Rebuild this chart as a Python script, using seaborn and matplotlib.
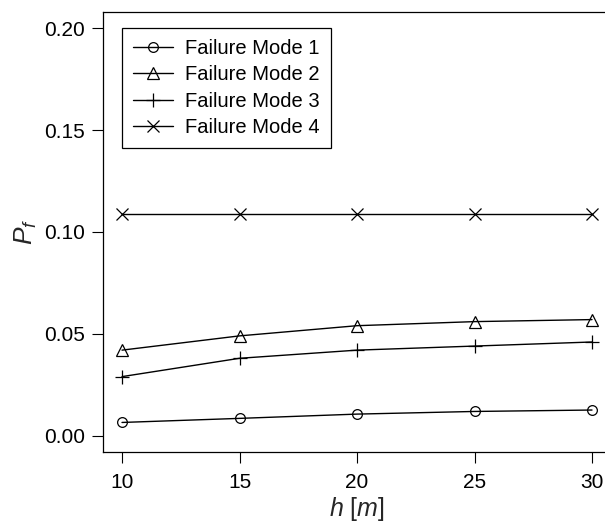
import pandas as pd
import matplotlib
matplotlib.use("Agg")
import matplotlib.pyplot as plt
import seaborn as sns

# data
h = [10, 15, 20, 25, 30]
mode1 = [0.0065, 0.0085, 0.0106, 0.0119, 0.0126]
mode2 = [0.042, 0.049, 0.054, 0.056, 0.057]
mode3 = [0.029, 0.038, 0.042, 0.044, 0.046]
mode4 = [0.109, 0.109, 0.109, 0.109, 0.109]
labels = ['Failure Mode 1', 'Failure Mode 2', 'Failure Mode 3', 'Failure Mode 4']
markers = ['o', '^', '+', 'x']
msizes = [7, 8, 10, 8]

sns.set_style('ticks')
plt.rcParams['font.family'] = ['Liberation Sans', 'DejaVu Sans']
plt.rcParams['text.color'] = 'black'
plt.rcParams['mathtext.fontset'] = 'custom'
plt.rcParams['mathtext.it'] = 'Liberation Sans:italic'
plt.rcParams['mathtext.rm'] = 'Liberation Sans'

fig = plt.figure(figsize=(6.05, 5.26), dpi=100)
ax = fig.add_axes([0.1706, 0.1407, 0.839, 0.8365])

for vals, lab, m, ms in zip([mode1, mode2, mode3, mode4], labels, markers, msizes):
    df = pd.DataFrame({'h': h, 'Pf': vals})
    sns.lineplot(data=df, x='h', y='Pf', ax=ax, color='black', linewidth=1,
                 marker=m, markersize=ms,
                 markerfacecolor='none', markeredgecolor='black',
                 markeredgewidth=0.9, label=lab)

ax.set_xlim(9.2, 30.8)
ax.set_ylim(-0.008, 0.208)
ax.set_xticks([10, 15, 20, 25, 30])
ax.set_yticks([0.0, 0.05, 0.10, 0.15, 0.20])
ax.set_yticklabels(['0.00', '0.05', '0.10', '0.15', '0.20'])
ax.tick_params(direction='out', length=8, width=0.8, labelsize=15, colors='black')
ax.tick_params(axis='y', pad=5)
ax.tick_params(axis='x', pad=7)
for s in ax.spines.values():
    s.set_visible(True)
    s.set_color('black')
    s.set_linewidth(0.9)

ax.set_xlabel('$h\\ [m]$', fontsize=18, labelpad=2)
ax.set_ylabel('$P_f$', fontsize=19, labelpad=4)

leg = ax.legend(loc='upper left', bbox_to_anchor=(0.037, 0.9636), borderaxespad=0,
                fontsize=14.5, frameon=True, fancybox=False, edgecolor='black',
                framealpha=1, handlelength=2.0, handletextpad=0.6,
                labelspacing=0.36, borderpad=0.55)
leg.get_frame().set_linewidth(0.9)

fig.savefig('out.png', dpi=100)
